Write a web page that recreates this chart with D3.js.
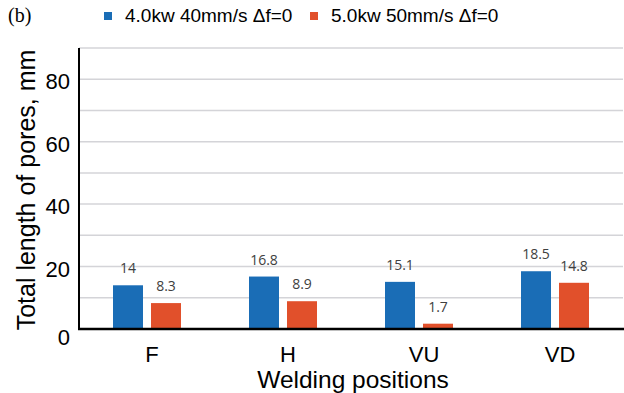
<!DOCTYPE html>
<html>
<head>
<meta charset="utf-8">
<script src="https://cdn.jsdelivr.net/npm/d3@7"></script>
<style>
  body { margin: 0; background: #fff; }
  svg { display: block; }
</style>
</head>
<body>
<svg id="chart" width="624" height="393"></svg>
<script>
// Chart data
var categories = ["F", "H", "VU", "VD"];
var seriesNames = ["4.0kw 40mm/s \u0394f=0", "5.0kw 50mm/s \u0394f=0"];
var series1 = [14, 16.8, 15.1, 18.5];
var series2 = [8.3, 8.9, 1.7, 14.8];
var valueLabels1 = ["14", "16.8", "15.1", "18.5"];
var valueLabels2 = ["8.3", "8.9", "1.7", "14.8"];
var yTicks = [0, 20, 40, 60, 80];
var gridTicks = [10, 20, 30, 40, 50, 60, 70, 80, 90];

var colors = ["#1a6db6", "#e1502b"];

var svg = d3.select("#chart");
var margin = {left: 79, right: 1, top: 48, bottom: 64};
var width = 624, height = 393;

var x = d3.scaleBand().domain(categories).range([margin.left, width - margin.right]).padding(0);
var y = d3.scaleLinear().domain([0, 90]).range([329, 48]);

// Grid lines
svg.append("g").selectAll("line")
    .data(gridTicks)
    .enter().append("line")
    .attr("x1", margin.left).attr("x2", width - margin.right)
    .attr("y1", d => y(d)).attr("y2", d => y(d))
    .attr("stroke", "#d4d4d8").attr("stroke-width", 1.5);

// Bars
var barW = 30, gap = 8;
var groups = categories.map(function(c, i) {
    return {cat: c, vals: [series1[i], series2[i]], labels: [valueLabels1[i], valueLabels2[i]]};
});

var g = svg.append("g");
groups.forEach(function(d) {
    var cx = x(d.cat) + x.bandwidth() / 2;
    d.vals.forEach(function(v, j) {
        var bx = j === 0 ? cx - gap / 2 - barW : cx + gap / 2;
        g.append("rect")
            .attr("x", bx).attr("width", barW)
            .attr("y", y(v)).attr("height", y(0) - y(v))
            .attr("fill", colors[j]);
        g.append("text")
            .attr("x", bx + barW / 2)
            .attr("y", y(v) - 12)
            .attr("text-anchor", "middle")
            .attr("font-family", "Open Sans, sans-serif")
            .attr("font-size", "14px")
            .attr("fill", "#404040")
            .text(d.labels[j]);
    });
});

// Y axis line
svg.append("line")
    .attr("x1", margin.left).attr("x2", margin.left)
    .attr("y1", 48).attr("y2", y(0) + 1)
    .attr("stroke", "#000").attr("stroke-width", 2);

// X axis line
svg.append("line")
    .attr("x1", margin.left - 1).attr("x2", width)
    .attr("y1", y(0)).attr("y2", y(0))
    .attr("stroke", "#000").attr("stroke-width", 2.5);

// Y tick labels
svg.append("g").selectAll("text")
    .data(yTicks)
    .enter().append("text")
    .attr("x", 70)
    .attr("y", d => y(d) + (d === 0 ? 16 : 10))
    .attr("text-anchor", "end")
    .attr("font-family", "Liberation Sans, Arial, sans-serif")
    .attr("font-size", "22px")
    .attr("fill", "#000")
    .text(d => d);

// X category labels
svg.append("g").selectAll("text")
    .data(categories)
    .enter().append("text")
    .attr("x", d => x(d) + x.bandwidth() / 2 + 5)
    .attr("y", 362)
    .attr("text-anchor", "middle")
    .attr("font-family", "Liberation Sans, Arial, sans-serif")
    .attr("font-size", "22px")
    .attr("fill", "#000")
    .text(d => d);

// Axis titles
svg.append("text")
    .attr("x", 353).attr("y", 388)
    .attr("text-anchor", "middle")
    .attr("font-family", "Liberation Sans, Arial, sans-serif")
    .attr("font-size", "24.5px")
    .text("Welding positions");

svg.append("text")
    .attr("transform", "translate(35,190) rotate(-90)")
    .attr("text-anchor", "middle")
    .attr("font-family", "Liberation Sans, Arial, sans-serif")
    .attr("font-size", "25px")
    .text("Total length of pores, mm");

// Panel label
svg.append("text")
    .attr("x", 8).attr("y", 22)
    .attr("font-family", "Liberation Serif, Times New Roman, serif")
    .attr("font-size", "20px")
    .text("(b)");

// Legend
var legendX = [104, 310];
seriesNames.forEach(function(name, i) {
    svg.append("rect")
        .attr("x", legendX[i]).attr("y", 12)
        .attr("width", 8).attr("height", 8)
        .attr("fill", colors[i]);
    svg.append("text")
        .attr("x", legendX[i] + 21).attr("y", 22)
        .attr("font-family", "Liberation Sans, Arial, sans-serif")
        .attr("font-size", "19px")
        .text(name);
});
</script>
</body>
</html>
